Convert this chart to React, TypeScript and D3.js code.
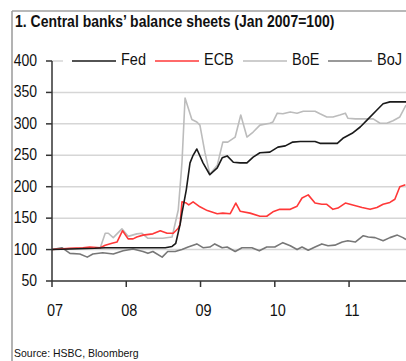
import React from "react";
import * as d3 from "d3";

// months since Jan 2007, index value (Jan 2007 = 100)
const fed: [number, number][] = [
  [0, 100], [2.9, 101], [6.9, 102], [8.6, 103], [18.3, 103], [19.4, 105], [20.0, 110], [20.7, 140],
  [21.0, 158], [21.7, 195], [22.3, 238], [22.8, 250], [23.4, 260], [24.4, 238], [25.5, 219], [26.7, 230],
  [27.5, 246], [28.3, 249], [29.3, 239], [30.4, 238], [31.5, 238], [32.5, 247], [33.6, 254], [35.2, 255],
  [36.5, 263], [37.7, 265], [38.9, 271], [40.1, 272], [42.5, 272], [43.3, 269], [46.1, 269], [47.0, 277],
  [48.5, 285], [49.8, 295], [50.9, 306], [52.5, 322], [53.5, 332], [54.6, 335], [57.2, 335],
];
const ecb: [number, number][] = [
  [0, 100], [2.9, 102], [5.0, 103], [6.1, 104], [7.8, 103], [8.6, 107], [9.7, 110], [10.5, 112],
  [11.4, 130], [12.3, 117], [13.1, 117], [13.7, 120], [14.7, 123], [16.3, 125], [17.5, 130], [18.6, 126],
  [19.6, 126], [20.4, 134], [20.7, 140], [21.0, 176], [21.7, 174], [22.1, 171], [22.8, 176], [23.9, 168],
  [25.1, 162], [26.7, 157], [27.6, 158], [28.8, 157], [29.7, 174], [30.4, 161], [32.0, 158], [33.6, 153],
  [34.7, 153], [35.7, 160], [36.8, 164], [38.5, 164], [39.6, 169], [40.4, 182], [41.4, 187], [42.5, 174],
  [43.6, 172], [44.4, 172], [45.4, 164], [46.2, 166], [47.4, 174], [48.6, 171], [50.1, 167], [51.4, 164],
  [52.5, 167], [53.5, 172], [54.6, 175], [55.4, 180], [56.2, 200], [57.1, 203],
];
const boe: [number, number][] = [
  [0, 100], [4.0, 102], [7.3, 103], [7.8, 103], [8.6, 126], [9.1, 126], [9.9, 119], [11.3, 133],
  [12.3, 121], [13.7, 125], [14.5, 126], [15.5, 118], [17.9, 118], [19.4, 120], [20.4, 163], [21.0, 238],
  [21.5, 341], [22.6, 307], [23.4, 303], [23.9, 298], [24.7, 255], [25.5, 220], [26.7, 234], [27.6, 271],
  [28.4, 271], [29.6, 279], [30.5, 314], [31.5, 279], [32.5, 287], [33.6, 298], [35.2, 301], [35.7, 303],
  [36.4, 317], [37.3, 316], [38.5, 319], [39.6, 317], [40.6, 320], [42.5, 320], [43.3, 316], [44.4, 311],
  [45.4, 311], [46.5, 314], [47.4, 317], [47.8, 309], [49.0, 308], [51.9, 308], [53.0, 301], [54.1, 301],
  [55.1, 305], [56.2, 311], [57.2, 330],
];
const boj: [number, number][] = [
  [0, 100], [0.5, 101], [1.6, 103], [2.9, 94], [4.5, 93], [5.7, 88], [6.6, 93], [8.2, 95],
  [9.9, 93], [11.5, 98], [13.1, 101], [14.7, 97], [15.5, 94], [16.3, 97], [17.8, 88], [18.7, 97],
  [19.9, 97], [21.0, 100], [22.0, 104], [23.4, 109], [24.4, 103], [25.5, 104], [26.3, 109], [27.5, 103],
  [28.3, 104], [29.6, 97], [30.7, 103], [32.3, 103], [33.5, 98], [34.7, 104], [36.0, 104], [37.3, 111],
  [38.5, 106], [39.6, 100], [40.4, 104], [41.4, 99], [42.5, 104], [43.6, 109], [44.6, 106], [45.7, 107],
  [46.9, 112], [47.8, 114], [49.0, 112], [50.3, 122], [51.1, 120], [52.2, 119], [53.5, 114], [54.6, 119],
  [55.8, 123], [56.7, 119], [57.2, 116],
];

const seriesNames = ["Fed", "ECB", "BoE", "BoJ"];
const seriesColors = ["#1a1a1a", "#ff3838", "#bcbcbc", "#777777"];
const yTicks = [50, 100, 150, 200, 250, 300, 350, 400];
const xTicks = [0, 12, 24, 36, 48];
const xTickLabels = ["07", "08", "09", "10", "11"];
const title = "1. Central banks\u2019 balance sheets (Jan 2007=100)";
const source = "Source: HSBC, Bloomberg";

const W = 406;
const H = 361;
const left = 52;
const right = 406;
const top = 61;
const bottom = 281;
const SY = 1.12;
const font = "'Liberation Sans', Arial, sans-serif";

function T(props: { x: number; y: number; size: number; anchor?: string; bold?: boolean; children: React.ReactNode; fill?: string }) {
  return (
    <g transform={`translate(${props.x},${props.y}) scale(1,${SY})`}>
      <text
        x={0}
        y={0}
        fontFamily={font}
        fontSize={props.size}
        fontWeight={props.bold ? "bold" : "normal"}
        textAnchor={props.anchor || "start"}
        fill={props.fill || "#111"}
      >
        {props.children}
      </text>
    </g>
  );
}

export default function App() {
  const x = d3.scaleLinear().domain([0, 57.2]).range([left, right]);
  const y = d3.scaleLinear().domain([50, 400]).range([bottom, top]);
  const line = d3
    .line<[number, number]>()
    .x((d) => x(d[0]))
    .y((d) => y(d[1]));
  const data = [fed, ecb, boe, boj];
  const drawOrder = [2, 3, 1, 0];

  const legendLineStarts = [72, 155, 243, 328];

  return (
    <svg width={W} height={H} style={{ position: "fixed", left: 0, top: 0, background: "#fff" }}>
      <rect x={0} y={0} width={W} height={H} fill="#fff" />
      {/* frame */}
      <line x1={12} y1={11} x2={W} y2={11} stroke="#a0a0a0" strokeWidth={1.6} />
      <line x1={12} y1={11} x2={12} y2={H} stroke="#a0a0a0" strokeWidth={1.6} />
      <T x={15} y={27} size={14} bold>
        {title}
      </T>

      {/* grid */}
      {yTicks
        .filter((t) => t > 50)
        .map((t) => (
          <line key={t} x1={left} x2={right} y1={y(t)} y2={y(t)} stroke="#d6d6d6" strokeWidth={1.5} />
        ))}

      <defs>
        <clipPath id="plot">
          <rect x={left} y={top - 10} width={right - left} height={bottom - top + 10} />
        </clipPath>
      </defs>

      {/* legend background and legend */}
      <rect x={63} y={52} width={W - 63} height={18} fill="#fff" />
      {seriesNames.map((n, i) => (
        <g key={n}>
          <line
            x1={legendLineStarts[i]}
            x2={legendLineStarts[i] + 44}
            y1={61}
            y2={61}
            stroke={seriesColors[i]}
            strokeWidth={1.6}
          />
          <T x={legendLineStarts[i] + 49} y={64.5} size={14.5}>
            {n}
          </T>
        </g>
      ))}

      {/* series */}
      <g clipPath="url(#plot)">
        {drawOrder.map((i) => (
          <path
            key={i}
            d={line(data[i]) || ""}
            fill="none"
            stroke={seriesColors[i]}
            strokeWidth={1.6}
            strokeLinejoin="round"
          />
        ))}
      </g>

      {/* axes */}
      <line x1={left} x2={left} y1={top} y2={bottom} stroke="#333" strokeWidth={1.5} />
      <line x1={left} x2={right} y1={bottom} y2={bottom} stroke="#333" strokeWidth={1.5} />
      {yTicks.map((t) => (
        <g key={t}>
          <line x1={left - 6} x2={left} y1={y(t)} y2={y(t)} stroke="#333" strokeWidth={1.5} />
          <T x={37} y={y(t) + 5} size={14} anchor="end">
            {t}
          </T>
        </g>
      ))}
      {xTicks.map((t, i) => (
        <g key={t}>
          <line x1={x(t)} x2={x(t)} y1={bottom} y2={bottom + 6} stroke="#333" strokeWidth={1.5} />
          <T x={x(t) + 3} y={315.5} size={14.5} anchor="middle">
            {xTickLabels[i]}
          </T>
        </g>
      ))}

      <T x={14} y={357} size={10.5}>
        {source}
      </T>
    </svg>
  );
}
